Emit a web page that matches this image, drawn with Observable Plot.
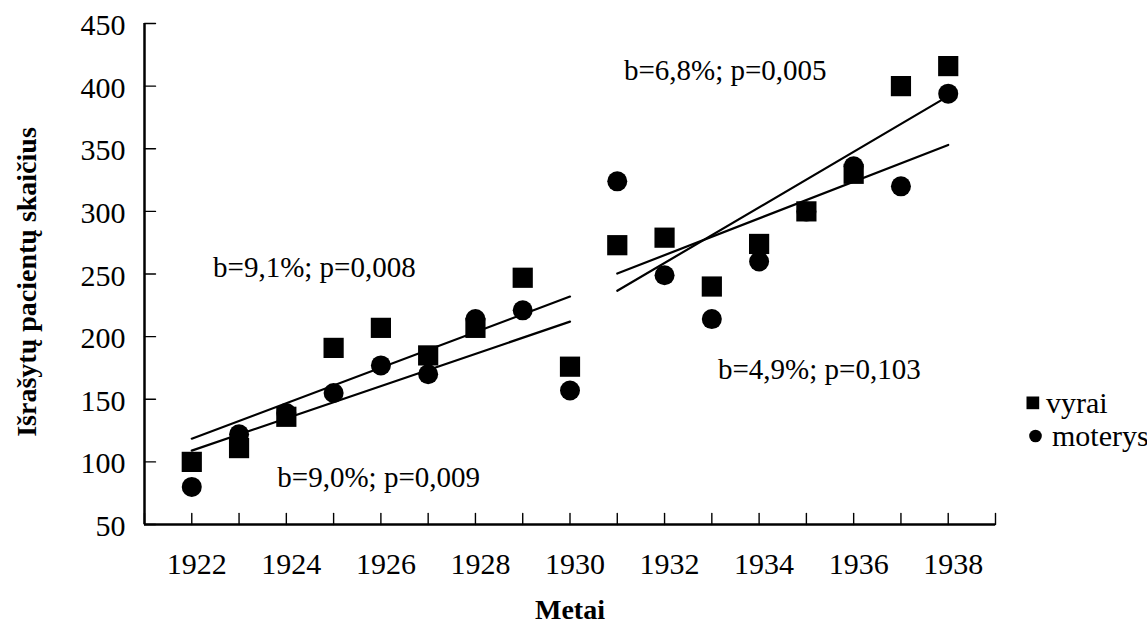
<!DOCTYPE html>
<html>
<head>
<meta charset="utf-8">
<script src="https://cdn.jsdelivr.net/npm/d3@7"></script>
<script src="https://cdn.jsdelivr.net/npm/@observablehq/plot@0.6"></script>
<style>
  body { margin: 0; background: #fff; }
  #wrap { position: relative; width: 1147px; height: 623px; font-family: "Liberation Serif", "Times New Roman", serif; color: #000; }
  #legend { position: absolute; left: 1026px; top: 386px; font-size: 30px; color: #000; }
  #legend .row { display: flex; align-items: center; height: 33px; }
  #legend svg { margin-right: 6px; }
</style>
</head>
<body>
<div id="wrap"></div>
<script>
// ---- data ----
const years = [1922,1923,1924,1925,1926,1927,1928,1929,1930,1931,1932,1933,1934,1935,1936,1937,1938];
const vyrai = [100,111,136,191,207,185,207,247,176,273,279,240,274,300,330,400,416];
const moterys = [80,122,139,155,177,170,214,221,157,324,249,214,260,300,336,320,394];

// trend lines (endpoints)
const trendNames = ["p1a","p1b","p2a","p2b"];
const trendYears = [[1922,1930],[1922,1930],[1931,1938],[1931,1938]];
const trendValues = [[118.5,232],[109,212],[250.4,353],[236.6,392]];

// annotations
const annLabels = ["b=9,1%; p=0,008","b=9,0%; p=0,009","b=6,8%; p=0,005","b=4,9%; p=0,103"];
const annYears = [1922.45,1923.81,1931.14,1933.13];
const annValues = [254.9,87,412.5,173.8];

const xLabelTicks = [1922,1924,1926,1928,1930,1932,1934,1936,1938];
const xMinorTicks = [1921,1922,1923,1924,1925,1926,1927,1928,1929,1930,1931,1932,1933,1934,1935,1936,1937,1938,1939];
const yTicks = [50,100,150,200,250,300,350,400,450];
const legendLabels = ["vyrai","moterys"];
const xTitle = "Metai";
const yTitle = "Išrašytų pacientų skaičius";

// ---- tables ----
const pts = years.map((y, i) => ({year: y, v: vyrai[i], m: moterys[i]}));
const trendRows = trendNames.flatMap((n, k) => trendYears[k].map((yr, j) => ({g: n, x: yr, y: trendValues[k][j]})));
const annRows = annLabels.map((t, i) => ({t, x: annYears[i], y: annValues[i]}));

const tickShape = {draw(ctx, l) { ctx.moveTo(0, 0); ctx.lineTo(0, -l); }};
const font = "Liberation Serif";

const chart = Plot.plot({
  width: 1147,
  height: 623,
  marginLeft: 144,
  marginRight: 152,
  marginTop: 23,
  marginBottom: 99,
  style: {fontFamily: font, color: "#000", background: "#fff", overflow: "visible"},
  x: {domain: [1921, 1939]},
  y: {domain: [50, 450]},
  marks: [
    // axis lines
    Plot.ruleX([1921], {stroke: "#000", strokeWidth: 2.5}),
    Plot.ruleY([50], {stroke: "#000", strokeWidth: 2.5}),
    // inward ticks
    Plot.vector(xMinorTicks, {x: d => d, y: 50, length: 11, rotate: 0, anchor: "start", shape: tickShape, stroke: "#000", strokeWidth: 1.4}),
    Plot.vector(yTicks, {x: 1921, y: d => d, length: 11, rotate: 90, anchor: "start", shape: tickShape, stroke: "#000", strokeWidth: 1.4}),
    // tick labels
    Plot.axisX({ticks: xLabelTicks, tickSize: 0, tickPadding: 28, tickFormat: d => String(d), fontSize: 30, dx: 5, label: null}),
    Plot.axisY({ticks: yTicks, tickSize: 0, tickPadding: 19, tickFormat: d => String(d), fontSize: 30, dy: 2, label: null}),
    // trend lines
    Plot.line(trendRows, {x: "x", y: "y", z: "g", stroke: "#000", strokeWidth: 2.2}),
    // points
    Plot.dot(pts, {x: "year", y: "m", symbol: "circle", r: 10, fill: "#000"}),
    Plot.dot(pts, {x: "year", y: "v", symbol: "square", r: 11.4, fill: "#000"}),
    // annotations
    Plot.text(annRows, {x: "x", y: "y", text: "t", textAnchor: "start", fontSize: 29, fill: "#000"}),
    // axis titles
    Plot.text([xTitle], {frameAnchor: "bottom", dy: 94, fontSize: 28, fontWeight: "bold", fill: "#000"}),
    Plot.text([yTitle], {frameAnchor: "left", textAnchor: "middle", lineAnchor: "middle", dx: -117, dy: 8, rotate: -90, fontSize: 28, fontWeight: "bold", fill: "#000"})
  ]
});

const wrap = document.getElementById("wrap");
wrap.appendChild(chart);

// legend
const legend = document.createElement("div");
legend.id = "legend";
const shapes = [
  '<svg width="14" height="14"><rect x="0.5" y="0.5" width="12.7" height="12.7" fill="#000"/></svg>',
  '<svg width="20" height="14"><circle cx="9.5" cy="7" r="6.3" fill="#000"/></svg>'
];
legendLabels.forEach((lab, i) => {
  const row = document.createElement("div");
  row.className = "row";
  row.innerHTML = shapes[i] + '<span>' + lab + '</span>';
  legend.appendChild(row);
});
wrap.appendChild(legend);
</script>
</body>
</html>
